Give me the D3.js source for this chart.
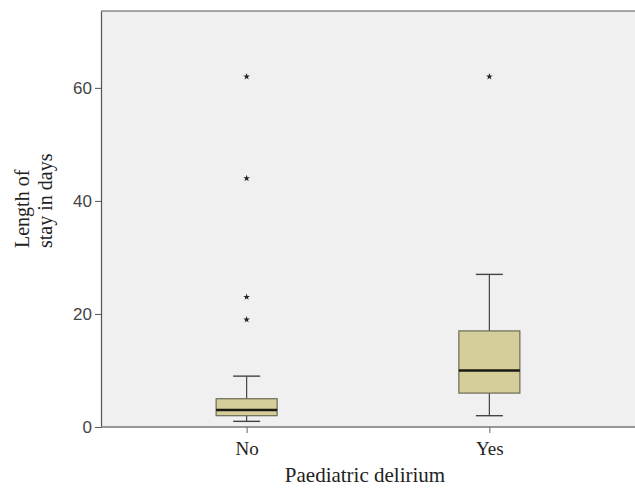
<!DOCTYPE html>
<html>
<head>
<meta charset="utf-8">
<script src="https://cdn.jsdelivr.net/npm/d3@7"></script>
<style>
	body { margin: 0; background: #fff; }
	svg { display: block; }
</style>
</head>
<body>
<div id="chart"></div>
<script>
// box plot: length of stay by paediatric delirium

var groups = ["No", "Yes"];
var q1 = [2, 6];
var median = [3, 10];
var q3 = [5, 17];
var whiskLow = [1, 2];
var whiskHigh = [9, 27];
var outliersNo = [19, 23, 44, 62];
var outliersYes = [62];
var yTicks = [0, 20, 40, 60];

var width = 635, height = 488;
var margin = {top: 11, right: 0, bottom: 61, left: 101};

var svg = d3.select("#chart")
	.append("svg")
	.attr("width", width)
	.attr("height", height);

var x = d3.scalePoint()
	.domain(groups)
	.range([margin.left, width - margin.right])
	.padding(0.6);

var y = d3.scaleLinear()
	.domain([0, 73.6])
	.range([height - margin.bottom, margin.top]);

// (bg) plot background
svg.append("rect")
	.attr("x", margin.left)
	.attr("y", margin.top)
	.attr("width", width - margin.left - margin.right)
	.attr("height", height - margin.top - margin.bottom)
	.attr("fill", "#f0f0f0");

// top border
svg.append("line")
	.attr("x1", margin.left).attr("x2", width)
	.attr("y1", margin.top).attr("y2", margin.top)
	.attr("stroke", "#555").attr("stroke-width", 1.2);

// (axes)
var yAxis = svg.append("g")
	.attr("transform", "translate(" + margin.left + ",0)")
	.call(d3.axisLeft(y).tickValues(yTicks).tickSize(6).tickSizeOuter(0));
yAxis.select(".domain").attr("stroke", "#555").attr("stroke-width", 1.2);
yAxis.selectAll(".tick line").attr("stroke", "#555");
yAxis.selectAll(".tick text")
	.attr("font-family", "Liberation Sans, Arial, sans-serif")
	.attr("font-size", "17px")
	.attr("fill", "#444")
	.attr("x", -9);

var xAxis = svg.append("g")
	.attr("transform", "translate(0," + (height - margin.bottom) + ")")
	.call(d3.axisBottom(x).tickSize(6).tickSizeOuter(0));
xAxis.select(".domain")
	.attr("d", "M" + margin.left + ",0H" + width)
	.attr("stroke", "#777").attr("stroke-width", 1.6);
xAxis.selectAll(".tick line").attr("stroke", "#666");
xAxis.selectAll(".tick text")
	.attr("font-family", "Liberation Serif, Times New Roman, serif")
	.attr("font-size", "19px")
	.attr("fill", "#222")
	.attr("y", 15);

// (boxes)
var boxW = 61, capW = 27;
var data = groups.map(function(g, i) {
	return {g: g, q1: q1[i], med: median[i], q3: q3[i], lo: whiskLow[i], hi: whiskHigh[i],
		out: i === 0 ? outliersNo : outliersYes};
});

var box = svg.selectAll(".box")
	.data(data)
	.enter()
	.append("g")
	.attr("class", "box");

box.append("line")
	.attr("x1", function(d) { return x(d.g); })
	.attr("x2", function(d) { return x(d.g); })
	.attr("y1", function(d) { return y(d.hi); })
	.attr("y2", function(d) { return y(d.lo); })
	.attr("stroke", "#444").attr("stroke-width", 1.2);

box.selectAll(".cap")
	.data(function(d) { return [d.lo, d.hi].map(function(v) { return {g: d.g, v: v}; }); })
	.enter()
	.append("line")
	.attr("x1", function(d) { return x(d.g) - capW / 2; })
	.attr("x2", function(d) { return x(d.g) + capW / 2; })
	.attr("y1", function(d) { return y(d.v); })
	.attr("y2", function(d) { return y(d.v); })
	.attr("stroke", "#444").attr("stroke-width", 1.4);

box.append("rect")
	.attr("x", function(d) { return x(d.g) - boxW / 2; })
	.attr("width", boxW)
	.attr("y", function(d) { return y(d.q3); })
	.attr("height", function(d) { return y(d.q1) - y(d.q3); })
	.attr("fill", "#d5ce9b")
	.attr("stroke", "#6b6a55")
	.attr("stroke-width", 1.2);

box.append("line")
	.attr("x1", function(d) { return x(d.g) - boxW / 2; })
	.attr("x2", function(d) { return x(d.g) + boxW / 2; })
	.attr("y1", function(d) { return y(d.med); })
	.attr("y2", function(d) { return y(d.med); })
	.attr("stroke", "#1a1a10").attr("stroke-width", 2.6);

// (outliers) asterisks
box.selectAll(".out")
	.data(function(d) { return d.out.map(function(v) { return {g: d.g, v: v}; }); })
	.enter()
	.append("path")
	.attr("d", d3.symbol(d3.symbolStar, 14))
	.attr("transform", function(d) { return "translate(" + x(d.g) + "," + y(d.v) + ")"; })
	.attr("fill", "#222");

// (labels)
svg.append("text")
	.attr("x", (margin.left + width) / 2 - 3)
	.attr("y", 482)
	.attr("text-anchor", "middle")
	.attr("font-family", "Liberation Serif, Times New Roman, serif")
	.attr("font-size", "21px")
	.attr("fill", "#222")
	.text("Paediatric delirium");

var yl = svg.append("text")
	.attr("transform", "translate(0,248) rotate(-90)")
	.attr("text-anchor", "start")
	.attr("font-family", "Liberation Serif, Times New Roman, serif")
	.attr("font-size", "20px")
	.attr("fill", "#222");
yl.append("tspan").attr("x", 0).attr("y", 29).text("Length of");
yl.append("tspan").attr("x", 0).attr("y", 52).text("stay in days");
</script>
</body>
</html>
